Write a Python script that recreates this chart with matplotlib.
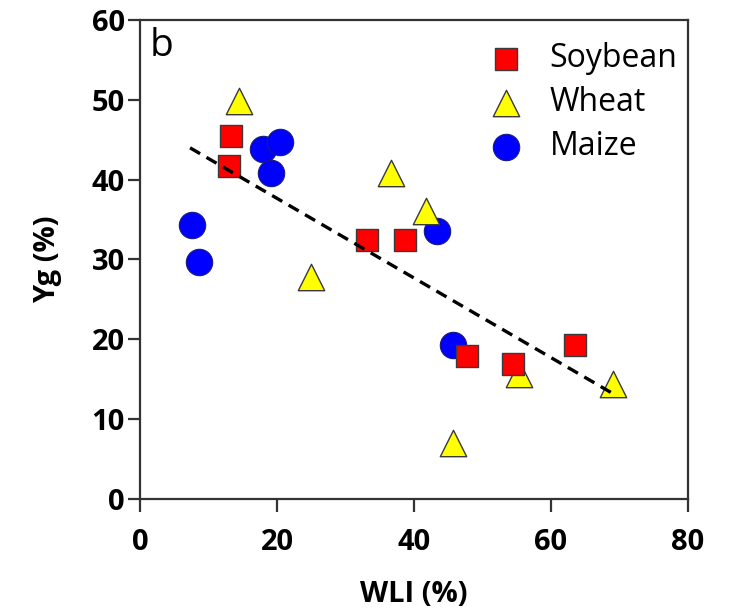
import numpy as np
import matplotlib.pyplot as plt

# WLI (%) vs Yg (%) per crop
soy_x = [13.3, 13.0, 33.1, 38.7, 47.7, 54.4, 63.5]
soy_y = [45.4, 41.7, 32.4, 32.4, 17.9, 16.9, 19.3]

wheat_x = [14.5, 36.7, 41.8, 24.9, 55.3, 69.1, 45.7]
wheat_y = [49.8, 40.8, 36.0, 27.8, 15.7, 14.4, 7.1]

maize_x = [7.6, 8.6, 17.9, 20.5, 19.1, 43.4, 45.7]
maize_y = [34.3, 29.7, 43.8, 44.7, 40.8, 33.6, 19.3]

# fitted trend over all crops
fit_slope = -0.498
fit_intercept = 47.6
fit_range = [7.3, 69.1]

x_ticks = [0, 20, 40, 60, 80]
y_ticks = [0, 10, 20, 30, 40, 50, 60]

plt.rcParams['font.family'] = ['Open Sans', 'DejaVu Sans']

fig = plt.figure(figsize=(7.3, 6.13), dpi=100)
ax = fig.add_axes([0.1918, 0.1855, 0.7507, 0.7825])

edge = '#3a3a3a'
ax.scatter(maize_x, maize_y, s=19**2, marker='o', color='#0000ff',
           edgecolors='#1a1a80', linewidths=0.8, zorder=3, label='Maize')
ax.scatter(wheat_x, wheat_y, s=19**2, marker='^', color='#ffff00',
           edgecolors=edge, linewidths=1.0, zorder=4, label='Wheat')
ax.scatter(soy_x, soy_y, s=16**2, marker='s', color='#ff0000',
           edgecolors=edge, linewidths=1.0, zorder=5, label='Soybean')

xs = np.array(fit_range)
ax.plot(xs, fit_intercept + fit_slope * xs, color='black', lw=2.4,
        linestyle=(0, (3.5, 2.2)), zorder=6)

ax.set_xlim(0, 80)
ax.set_ylim(0, 60)
ax.set_xticks(x_ticks)
ax.set_yticks(y_ticks)
ax.tick_params(axis='both', direction='out', length=9, width=1.6,
               labelsize=21, color='#333333')
for lab in ax.get_xticklabels() + ax.get_yticklabels():
    lab.set_fontweight('bold')
ax.tick_params(axis='x', pad=12)
ax.tick_params(axis='y', pad=2)
for sp in ax.spines.values():
    sp.set_linewidth(1.6)
    sp.set_color('#333333')

ax.set_xlabel('WLI (%)', fontsize=21, fontweight='bold', labelpad=16)
ax.set_ylabel('Yg (%)', fontsize=21, fontweight='bold', labelpad=21)

ax.text(0.018, 0.985, 'b', transform=ax.transAxes, fontsize=28,
        va='top', ha='left')

handles, labels = ax.get_legend_handles_labels()
order = [2, 1, 0]
ax.legend([handles[i] for i in order], [labels[i] for i in order],
          loc='upper right', bbox_to_anchor=(1.004, 0.98), frameon=False,
          fontsize=23, handletextpad=0.35, labelspacing=0.35,
          borderaxespad=0.0)

fig.savefig('out.png', dpi=100)
